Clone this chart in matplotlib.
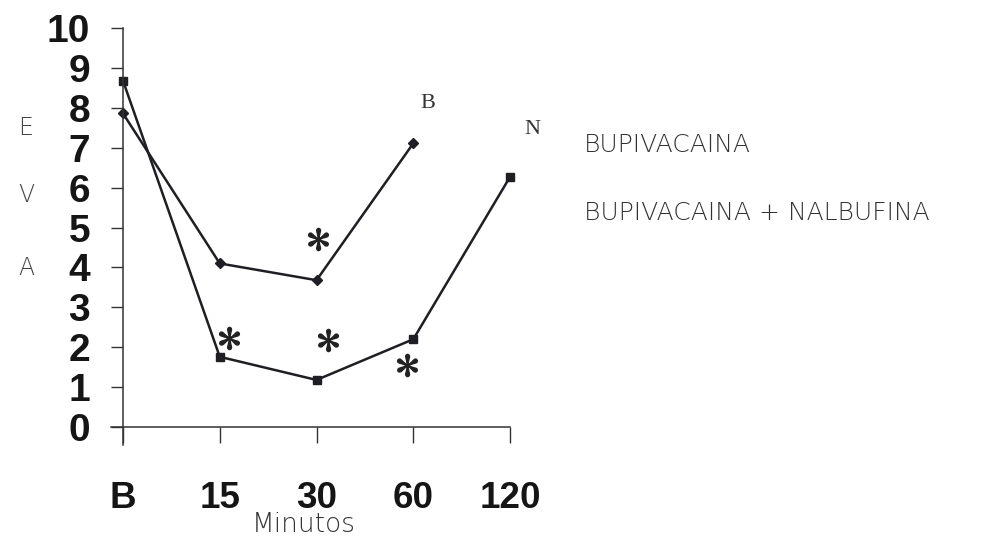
import matplotlib
matplotlib.use("Agg")
import matplotlib.pyplot as plt
import numpy as np

plt.rcParams["mathtext.fontset"] = "stix"

# Data
times = ["B", "15", "30", "60", "120"]
bupi = [7.86, 4.10, 3.68, 7.11]            # B, 15, 30, 60
bupi_nalb = [8.68, 1.76, 1.18, 2.20, 6.27]  # B, 15, 30, 60, 120
yticks = list(range(0, 11))

# significance asterisks (x index, value)
star_x = [2.02, 1.10, 2.12, 2.94]
star_y = [4.71, 2.23, 2.18, 1.55]

ink = "#1e1e24"

fig = plt.figure(figsize=(9.9, 5.44), dpi=100)
ax = fig.add_axes([0.1125, 0.182, 0.4027, 0.7665])

x = np.arange(len(times))
ax.plot(x[:len(bupi)], bupi, "-D", color=ink, lw=1.8, ms=5.5, clip_on=False)
ax.plot(x, bupi_nalb, "-s", color=ink, lw=1.8, ms=5.5, clip_on=False)
ax.plot(star_x, star_y, linestyle="none", marker=r"$\ast$", ms=16, color="#222222",
        clip_on=False)

ax.set_xlim(-0.12, 4)
ax.set_ylim(-0.45, 10)

for s in ["top", "right"]:
    ax.spines[s].set_visible(False)
ax.spines["left"].set_position(("data", 0))
ax.spines["bottom"].set_position(("data", 0))
for s in ["left", "bottom"]:
    ax.spines[s].set_color("#333333")
    ax.spines[s].set_linewidth(1.1)

ax.set_xticks(x)
ax.set_xticklabels(times)
ax.set_yticks(yticks)
ax.tick_params(axis="y", direction="out", length=8.6, width=1.0, color="#333333",
               pad=15, labelsize=28)
ax.tick_params(axis="x", direction="out", length=11.5, width=1.0, color="#333333",
               pad=27, labelsize=26.5)
for lab in ax.get_xticklabels() + ax.get_yticklabels():
    lab.set_fontfamily("Liberation Sans")
    lab.set_fontweight("bold")
    lab.set_color("#151515")

# axis titles
fig.text(304 / 990, 1 - 524 / 544, "Minutos", fontsize=19, fontweight="light",
         color="#333333", ha="center", va="center")
for letter, py in zip(["E", "V", "A"], [128, 195, 268]):
    fig.text(26 / 990, 1 - py / 544, letter, fontsize=17, fontweight="light",
             color="#444444", ha="center", va="center")

# series end labels
fig.text(428 / 990, 1 - 103 / 544, "B", fontsize=16, family="Liberation Serif",
         color="#333333", ha="center", va="center")
fig.text(532 / 990, 1 - 130 / 544, "N", fontsize=16, family="Liberation Serif",
         color="#333333", ha="center", va="center")

# legend text
fig.text(584 / 990, 1 - 145 / 544, "BUPIVACAINA", fontsize=18, fontweight="light",
         color="#333333", ha="left", va="center")
fig.text(584 / 990, 1 - 213 / 544, "BUPIVACAINA + NALBUFINA", fontsize=18,
         fontweight="light", color="#333333", ha="left", va="center")

fig.savefig("out.png", dpi=100)
